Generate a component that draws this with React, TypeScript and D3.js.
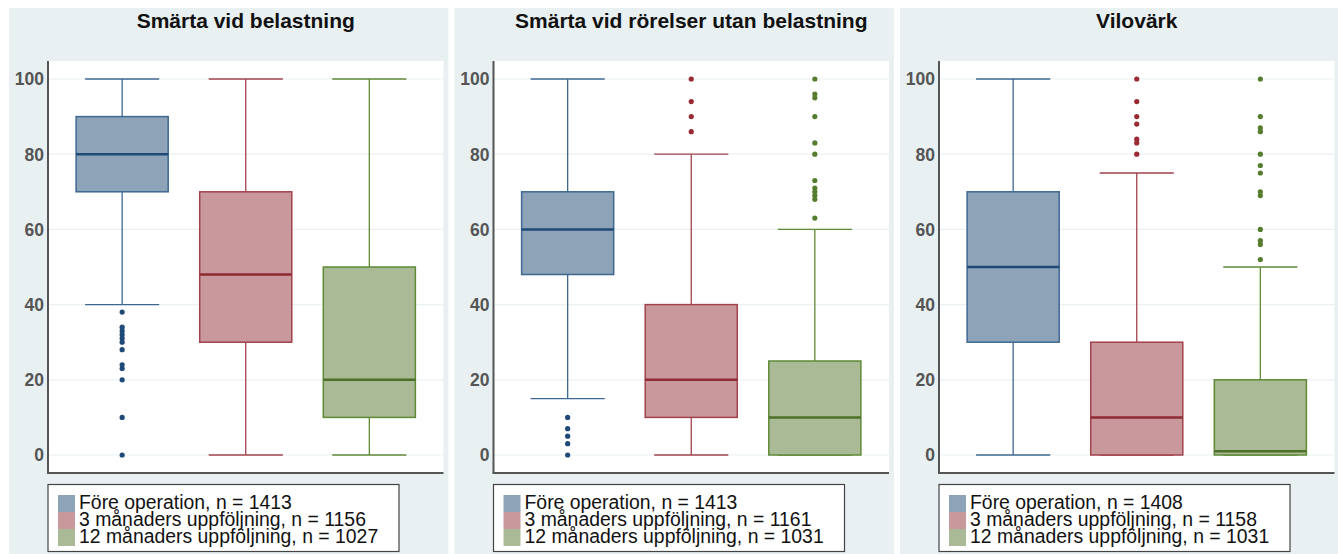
import * as d3 from 'd3';

const width = 1338;
const height = 554;

// panels
const panelTitles = ['Smärta vid belastning', 'Smärta vid rörelser utan belastning', 'Vilovärk'];
const groupLabels = ['Före operation', '3 månaders uppföljning', '12 månaders uppföljning'];
const groupN = [
  [1413, 1156, 1027],
  [1413, 1161, 1031],
  [1408, 1158, 1031],
];

// box stats per panel, per group
const whiskerLow = [
  [40, 0, 0],
  [15, 0, 0],
  [0, 0, 0],
];
const q1 = [
  [70, 30, 10],
  [48, 10, 0],
  [30, 0, 0],
];
const median = [
  [80, 48, 20],
  [60, 20, 10],
  [50, 10, 1],
];
const q3 = [
  [90, 70, 50],
  [70, 40, 25],
  [70, 30, 20],
];
const whiskerHigh = [
  [100, 100, 100],
  [100, 80, 60],
  [100, 75, 50],
];
const outliers = [
  [[38, 34, 33, 32, 31, 30, 28, 24, 23, 20, 10, 0], [], []],
  [[10, 7, 5, 3, 0], [100, 94, 90, 86], [100, 96, 95, 90, 83, 80, 73, 71, 70, 69, 68, 63]],
  [[], [100, 94, 90, 88, 84, 83, 80], [100, 90, 87, 86, 80, 77, 75, 70, 69, 60, 57, 56, 52]],
];
const yTicks = [0, 20, 40, 60, 80, 100];

const fills = ['#8CA3B8', '#C8989C', '#ABBA96'];
const strokes = ['#3E6891', '#A2424C', '#5E8A36'];
const medians = ['#1F4A78', '#8E2A33', '#4E7028'];
const dots = ['#1F4A78', '#9A2A33', '#567D2E'];

const font = '"Liberation Sans", Arial, Helvetica, sans-serif';

const panelX = d3.scaleBand<number>()
  .domain([0, 1, 2])
  .range([9, 1339.5])
  .paddingInner(0.0135);

const yScale = d3.scaleLinear().domain([0, 100]).range([455, 79]);
const plotTop = 61;
const plotBottom = 473;

const Panel = ({ p }: { p: number }) => {
  const px = panelX(p) as number;
  const pw = panelX.bandwidth();
  const left = px + 39;
  const right = px + pw - 5;
  const xScale = d3.scalePoint<string>()
    .domain(groupLabels)
    .range([left, right])
    .padding(0.6);
  const step = xScale.step();
  const boxW = step * 0.745;
  const capW = step * 0.6;

  return (
    <g>
      <rect x={px} y={8} width={pw} height={height - 8} fill="#E8F0F2" />
      <text x={(left + right) / 2} y={28} textAnchor="middle" fontFamily={font}
        fontWeight="bold" fontSize={21} fill="#111">{panelTitles[p]}</text>
      <rect x={left} y={plotTop} width={right - left} height={plotBottom - plotTop} fill="#fff" />
      {yTicks.map(t => (
        <g key={t}>
          <line x1={left} x2={right} y1={yScale(t)} y2={yScale(t)} stroke="#ECF1F3" strokeWidth={1.2} />
          <text x={left - 4} y={yScale(t)} dy="0.36em" textAnchor="end" fontFamily={font}
            fontWeight="bold" fontSize={17.5} fill="#555">{t}</text>
        </g>
      ))}
      {groupLabels.map((g, i) => {
        const cx = xScale(g) as number;
        return (
          <g key={g}>
            <line x1={cx} x2={cx} y1={yScale(q3[p][i])} y2={yScale(whiskerHigh[p][i])} stroke={strokes[i]} strokeWidth={1.3} />
            <line x1={cx} x2={cx} y1={yScale(q1[p][i])} y2={yScale(whiskerLow[p][i])} stroke={strokes[i]} strokeWidth={1.3} />
            <line x1={cx - capW / 2} x2={cx + capW / 2} y1={yScale(whiskerHigh[p][i])} y2={yScale(whiskerHigh[p][i])} stroke={strokes[i]} strokeWidth={1.3} />
            <line x1={cx - capW / 2} x2={cx + capW / 2} y1={yScale(whiskerLow[p][i])} y2={yScale(whiskerLow[p][i])} stroke={strokes[i]} strokeWidth={1.3} />
            <rect x={cx - boxW / 2} y={yScale(q3[p][i])} width={boxW}
              height={yScale(q1[p][i]) - yScale(q3[p][i])} fill={fills[i]} stroke={strokes[i]} strokeWidth={1.5} />
            <line x1={cx - boxW / 2} x2={cx + boxW / 2} y1={yScale(median[p][i])} y2={yScale(median[p][i])} stroke={medians[i]} strokeWidth={2.5} />
            {outliers[p][i].map((v, k) => (
              <circle key={k} cx={cx} cy={yScale(v)} r={2.6} fill={dots[i]} />
            ))}
          </g>
        );
      })}
      <line x1={left} x2={left} y1={plotTop} y2={plotBottom} stroke="#555" strokeWidth={2} />
      <line x1={left - 1} x2={right} y1={plotBottom} y2={plotBottom} stroke="#555" strokeWidth={2} />
      <rect x={left} y={484.5} width={351} height={67} fill="#fff" stroke="#444" strokeWidth={1.2} />
      {groupLabels.map((g, i) => (
        <g key={g}>
          <rect x={left + 10} y={495 + 17 * i} width={17} height={17} fill={fills[i]} />
          <text x={left + 31} y={509 + 17 * i} fontFamily={font} fontSize={19.4} fill="#111">
            {`${g}, n = ${groupN[p][i]}`}
          </text>
        </g>
      ))}
    </g>
  );
};

const App = () => {
  return (
    <div style={{ position: 'absolute', left: 0, top: 0 }}>
      <svg width={width} height={height} style={{ display: 'block' }}>
        <rect width={width} height={height} fill="#fff" />
        {[0, 1, 2].map(p => <Panel key={p} p={p} />)}
      </svg>
    </div>
  );
};

export default App;
